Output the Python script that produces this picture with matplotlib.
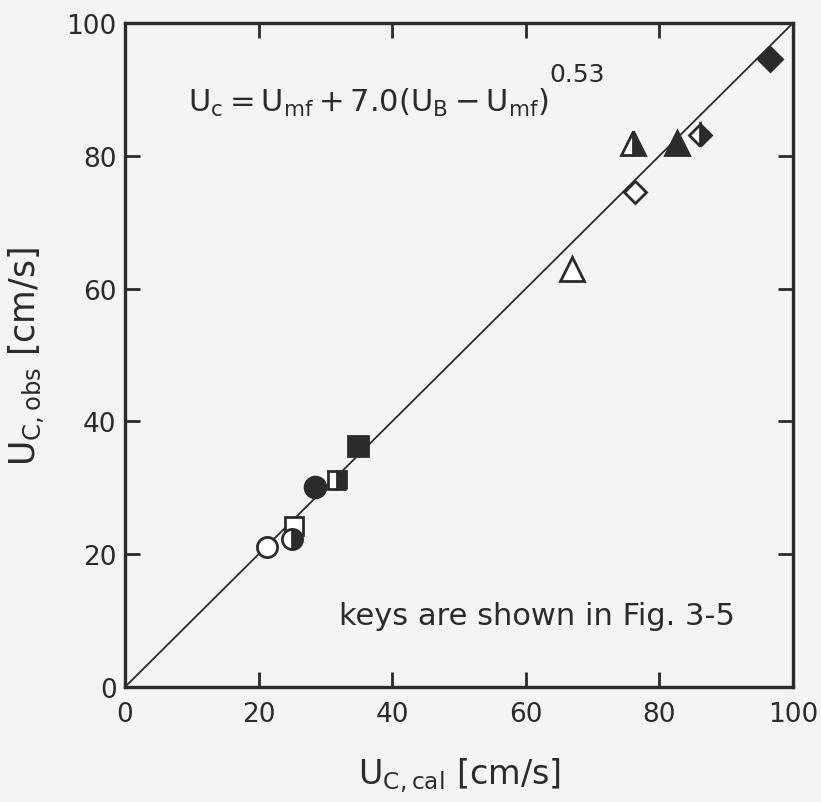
import matplotlib
matplotlib.use("Agg")
import matplotlib.pyplot as plt
import numpy as np

plt.rcParams['font.family'] = ['DejaVu Sans']
plt.rcParams['mathtext.fontset'] = 'dejavusans'

# data (U_C,cal, U_C,obs)
open_circle = ([21.2], [21.1])
half_circle = ([25.0], [22.3])
filled_circle = ([28.4], [30.1])
open_square = ([25.3], [24.3])
half_square = ([31.7], [31.1])
filled_square = ([34.9], [36.3])
open_triangle = ([66.9], [63.0])
half_triangle = ([76.1], [82.0])
filled_triangle = ([82.6], [82.0])
open_diamond = ([76.3], [74.5])
half_diamond = ([86.1], [83.1])
filled_diamond = ([96.6], [94.6])

line_x = [0, 100]
line_y = [0, 100]

ticks = [0, 20, 40, 60, 80, 100]

ink = '#2b2b2b'
bg = '#f5f3f3'

fig = plt.figure(figsize=(8.21, 8.03), dpi=100, facecolor=bg)
ax = fig.add_axes([125/821, 1-688/803, 668/821, 664/803], facecolor=bg)

ax.plot(line_x, line_y, color=ink, lw=1.3, zorder=1)

def mk(data, marker, ms, fill):
    if fill == 'open':
        ax.plot(*data, ls='none', marker=marker, ms=ms, mfc='white', mec=ink, mew=2, zorder=3)
    elif fill == 'full':
        ax.plot(*data, ls='none', marker=marker, ms=ms, mfc=ink, mec=ink, mew=2, zorder=3)
    else:
        ax.plot(*data, ls='none', marker=marker, ms=ms, mfc=ink, mfcalt='white',
                fillstyle='right', mec=ink, mew=2, zorder=3)

mk(open_square, 's', 13, 'open')
mk(open_circle, 'o', 14.5, 'open')
mk(half_circle, 'o', 14.5, 'half')
mk(filled_circle, 'o', 15, 'full')
mk(half_square, 's', 13, 'half')
mk(filled_square, 's', 14, 'full')
mk(open_triangle, '^', 17, 'open')
mk(half_triangle, '^', 17, 'half')
mk(filled_triangle, '^', 17, 'full')
mk(open_diamond, 'D', 11.5, 'open')
mk(half_diamond, 'D', 11.5, 'half')
mk(filled_diamond, 'D', 12.5, 'full')

ax.set_xlim(0, 100)
ax.set_ylim(0, 100)
ax.set_xticks(ticks)
ax.set_yticks(ticks)
ax.set_xticklabels([str(t) for t in ticks])
ax.set_yticklabels([str(t) for t in ticks])
for s in ax.spines.values():
    s.set_linewidth(2.4)
    s.set_color(ink)
ax.tick_params(direction='in', length=11, width=2, top=True, right=True,
               labelsize=19, colors=ink, pad=6)
ax.tick_params(axis='x', pad=10)

ax.text(9.5, 86.8, r'$\mathrm{U_c = U_{mf} + 7.0(U_B - U_{mf})}$',
        fontsize=22, color=ink, ha='left', va='baseline')
ax.text(63.5, 92.3, '0.53', fontsize=18, color=ink, ha='left', va='center')
ax.text(32.0, 9.5, 'keys are shown in Fig. 3-5', fontsize=22, color=ink,
        ha='left', va='baseline')

ax.set_xlabel(r'$\mathrm{U_{C,cal}}$ [cm/s]', fontsize=24, color=ink, labelpad=20)
ax.set_ylabel(r'$\mathrm{U_{C,obs}}$ [cm/s]', fontsize=25, color=ink, labelpad=14)

fig.savefig('out.png', dpi=100, facecolor=bg)
